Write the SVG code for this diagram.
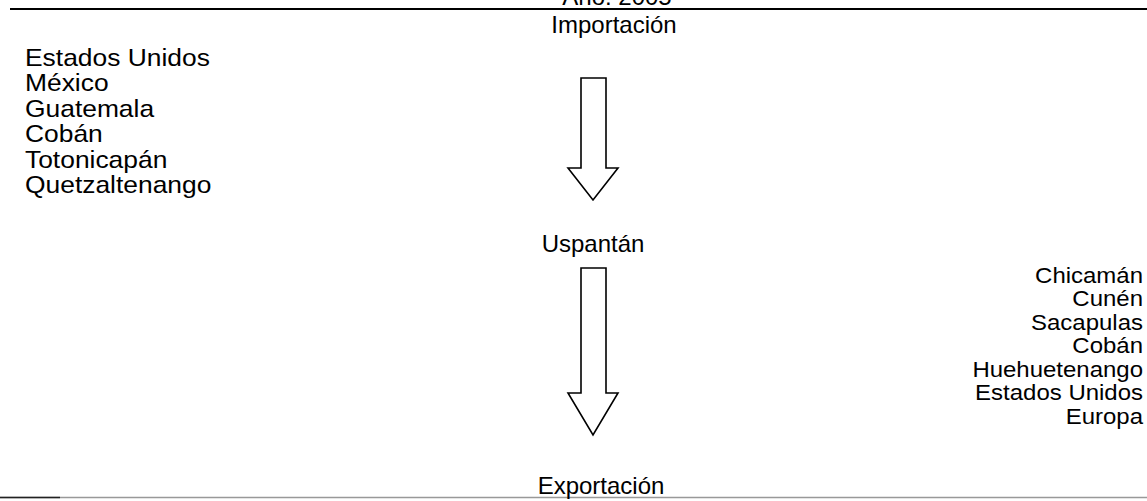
<svg xmlns="http://www.w3.org/2000/svg" width="1147" height="501" viewBox="0 0 1147 501">
<style>
text{font-family:"Liberation Sans",Arial,sans-serif;font-size:24px;fill:#000}
.mid{text-anchor:middle}
.end{text-anchor:end;font-size:22px}
.left{font-size:24px}
.arrow{fill:#fff;stroke:#000;stroke-width:1.6;stroke-linejoin:miter}
</style>
<rect width="1147" height="501" fill="#fff"/>
<g id="title"><text class="mid" x="617" y="5">Año: 2005</text></g>
<line x1="10" y1="9" x2="1147" y2="9" stroke="#000" stroke-width="2"/>
<line x1="0" y1="497.5" x2="1147" y2="497.5" stroke="#999" stroke-width="1.5"/>
<line x1="0" y1="497.5" x2="60" y2="497.5" stroke="#222" stroke-width="1.5"/>
<g id="importacion"><text class="mid" x="614" y="33">Importación</text></g>
<g id="origenes" transform="translate(25 0) scale(1.1 1)">
<text class="left" x="0" y="66">Estados Unidos</text>
<text class="left" x="0" y="91.5">México</text>
<text class="left" x="0" y="117">Guatemala</text>
<text class="left" x="0" y="142.5">Cobán</text>
<text class="left" x="0" y="168">Totonicapán</text>
<text class="left" x="0" y="193.5">Quetzaltenango</text>
</g>
<g id="uspantan"><text class="mid" x="593" y="252">Uspantán</text></g>
<g id="destinos" transform="translate(1143 0) scale(1.09 1)">
<text class="end" x="0" y="283">Chicamán</text>
<text class="end" x="0" y="306.5">Cunén</text>
<text class="end" x="0" y="330">Sacapulas</text>
<text class="end" x="0" y="353.5">Cobán</text>
<text class="end" x="0" y="377">Huehuetenango</text>
<text class="end" x="0" y="400.5">Estados Unidos</text>
<text class="end" x="0" y="424">Europa</text>
</g>
<g id="exportacion"><text class="mid" x="601" y="494">Exportación</text></g>
<g id="connectors">
<path class="arrow" d="M581,78 H606 V168 H618 L593,200 L568,168 H581 Z"/>
<path class="arrow" d="M581,268 H606 V393 H618 L593,435 L568,393 H581 Z"/>
</g>
</svg>
